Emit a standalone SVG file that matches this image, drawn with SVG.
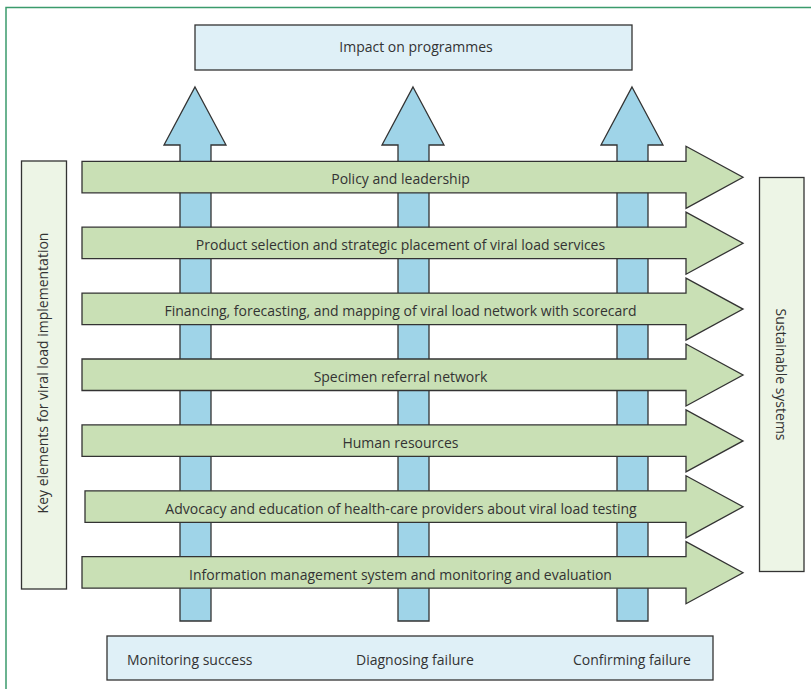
<svg xmlns="http://www.w3.org/2000/svg" width="811" height="689" viewBox="0 0 811 689">
<style>
.t{font-family:"Open Sans","DejaVu Sans",sans-serif;font-size:14px;fill:#333;}
.m{text-anchor:middle;}
.blue{fill:#9fd4e8;stroke:#333;stroke-width:1.3;stroke-linejoin:miter;}
.green{fill:#c9e0b5;stroke:#333;stroke-width:1.3;}
.lb{fill:#dff0f7;stroke:#333;stroke-width:1.3;}
.side{fill:#edf5e6;stroke:#333;stroke-width:1.3;}
</style>
<defs>
<path id="up" d="M0,0 L31,58 L16,58 L16,534 L-15,534 L-15,58 L-31,58 Z"/>
<path id="right" d="M0,0 L604,0 L604,-15 L661,16 L604,47 L604,31.5 L0,31.5 Z"/>
</defs>
<rect x="6" y="7.5" width="900" height="900" fill="#fff" stroke="#3b9b6c" stroke-width="1.5"/>
<g id="impact">
<rect class="lb" x="195" y="25" width="437" height="45"/>
<text class="t m" x="416" y="52">Impact on programmes</text>
</g>
<g id="connectors">
<use href="#up" class="blue" x="195" y="87"/>
<use href="#up" class="blue" x="413" y="87"/>
<use href="#up" class="blue" x="632" y="87"/>
</g>
<g id="key-elements">
<rect class="side" x="21.5" y="161" width="45" height="428"/>
<text class="t m" transform="translate(48,373) rotate(-90)">Key elements for viral load implementation</text>
</g>
<g id="sustainable">
<rect class="side" x="759.5" y="177.5" width="44.5" height="394"/>
<text class="t m" transform="translate(776,374.5) rotate(90)">Sustainable systems</text>
</g>
<g id="row1">
<use href="#right" class="green" x="82" y="161.3"/>
<text class="t m" x="400.5" y="184">Policy and leadership</text>
</g>
<g id="row2">
<use href="#right" class="green" x="82" y="227.2"/>
<text class="t m" x="400.5" y="250">Product selection and strategic placement of viral load services</text>
</g>
<g id="row3">
<use href="#right" class="green" x="82" y="293.1"/>
<text class="t m" x="400.5" y="316">Financing, forecasting, and mapping of viral load network with scorecard</text>
</g>
<g id="row4">
<use href="#right" class="green" x="82" y="359"/>
<text class="t m" x="400.5" y="382">Specimen referral network</text>
</g>
<g id="row5">
<use href="#right" class="green" x="82" y="424.9"/>
<text class="t m" x="400.5" y="447.5">Human resources</text>
</g>
<g id="row6">
<path class="green" d="M85,490.8 L686,490.8 L686,475.8 L743,506.8 L686,537.8 L686,522.3 L85,522.3 Z"/>
<text class="t m" x="401" y="513.5">Advocacy and education of health-care providers about viral load testing</text>
</g>
<g id="row7">
<use href="#right" class="green" x="82" y="556.7"/>
<text class="t m" x="400.5" y="579.5">Information management system and monitoring and evaluation</text>
</g>
<g id="outcomes">
<rect class="lb" x="107" y="636" width="606" height="44"/>
<text class="t" x="127" y="665">Monitoring success</text>
<text class="t" x="356" y="665">Diagnosing failure</text>
<text class="t" x="573" y="665">Confirming failure</text>
</g>
</svg>
